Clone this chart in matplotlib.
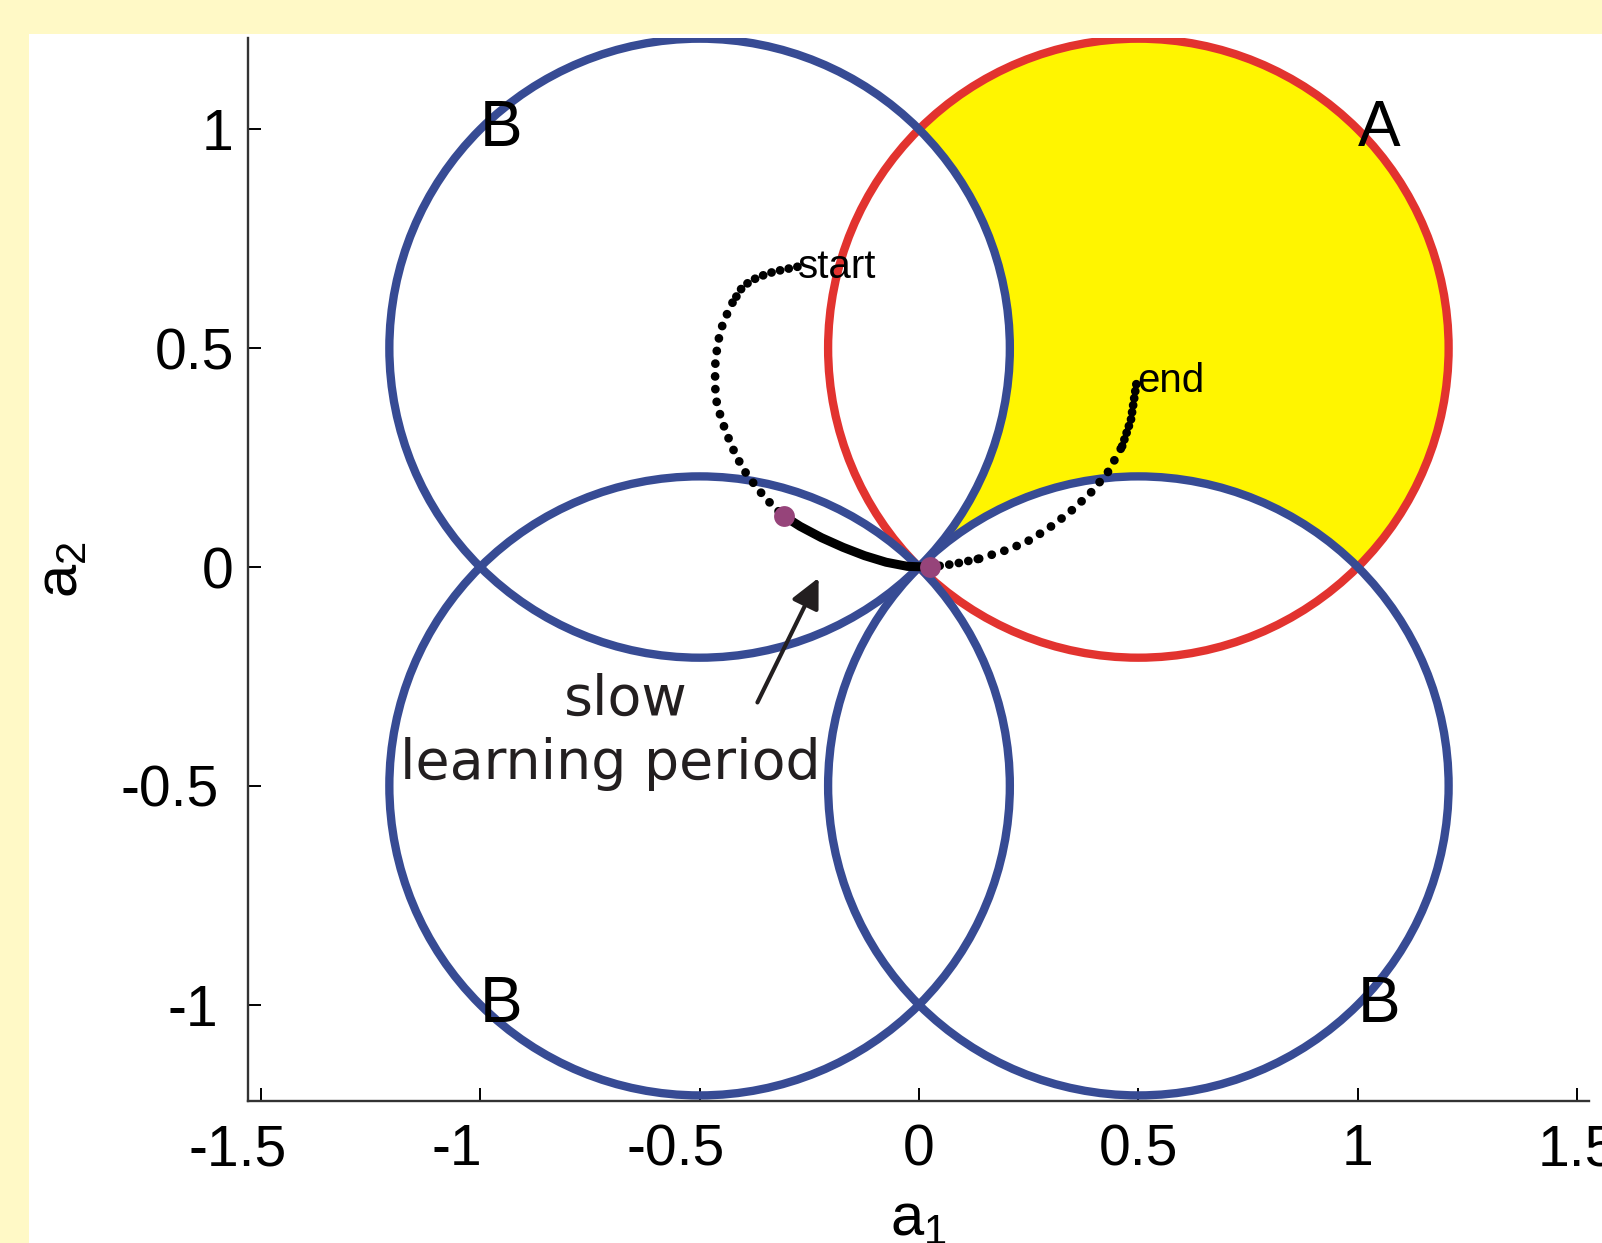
import numpy as np
import matplotlib.pyplot as plt
from matplotlib.patches import Circle, Rectangle
from matplotlib.transforms import ScaledTranslation

plt.rcParams['font.family'] = ['Liberation Sans', 'DejaVu Sans']
plt.rcParams['axes.unicode_minus'] = False

# Four decision circles (radius 1/sqrt(2)), A is the target class
centre_A = (0.5, 0.5)
centres_B = [(-0.5, 0.5), (-0.5, -0.5), (0.5, -0.5)]
radius = np.sqrt(0.5)

# Weight trajectory: dotted run from start, slow (dense) stretch, dotted run to end
start_x = [-0.277, -0.330, -0.368, -0.401, -0.425, -0.446, -0.458, -0.464,
           -0.465, -0.462, -0.450, -0.427, -0.401, -0.368, -0.332, -0.307]
start_y = [0.686, 0.675, 0.662, 0.642, 0.604, 0.560, 0.515, 0.470,
           0.418, 0.381, 0.336, 0.276, 0.224, 0.179, 0.138, 0.116]

slow_x = [-0.307, -0.271, -0.222, -0.173, -0.124, -0.075, -0.026, 0.025]
slow_y = [0.116, 0.093, 0.067, 0.045, 0.026, 0.011, 0.0015, 0.0]

end_x = [0.025, 0.080, 0.137, 0.194, 0.243, 0.292, 0.341, 0.390,
         0.430, 0.463, 0.483, 0.496]
end_y = [0.0, 0.007, 0.019, 0.037, 0.056, 0.086, 0.123, 0.168,
         0.216, 0.276, 0.336, 0.422]

# Markers where the slow period begins and ends
marks_x = [-0.307, 0.025]
marks_y = [0.116, 0.0]

xticks = [-1.5, -1, -0.5, 0, 0.5, 1, 1.5]
xticklabels = ['-1.5', '-1', '-0.5', '0', '0.5', '1', '1.5']
yticks = [-1, -0.5, 0, 0.5, 1]
yticklabels = ['-1', '-0.5', '0', '0.5', '1']

blue = '#374B94'
red = '#E2332F'
yellow = '#FFF500'
purple = '#96447A'
ink = '#231F20'

fig = plt.figure(figsize=(16.02, 12.43), dpi=100, facecolor='#FFF9C6')
fig.patches.append(Rectangle((0.0181, 0), 0.99, 0.9726, transform=fig.transFigure,
                             facecolor='white', edgecolor='none', zorder=-10))

ax = fig.add_axes([0.1546, 0.1142, 0.837, 0.855])
ax.set_facecolor('none')
ax.set_xlim(-1.53, 1.526)
ax.set_ylim(-1.22, 1.208)

# region of A not covered by neighbouring B circles
ax.add_patch(Circle(centre_A, radius, facecolor=yellow, edgecolor='none', zorder=1))
for c in (centres_B[0], centres_B[2]):
    ax.add_patch(Circle(c, radius, facecolor='white', edgecolor='none', zorder=1.2))

ax.add_patch(Circle(centre_A, radius, fill=False, edgecolor=red, lw=6, zorder=2))
for c in centres_B:
    ax.add_patch(Circle(c, radius, fill=False, edgecolor=blue, lw=6, zorder=2.1))


def dotted(xs, ys, gap):
    ax.plot(xs, ys, color='black', lw=6.3, linestyle=(0, (0.01, gap)),
            dash_capstyle='round', zorder=3)


# tighter dot spacing where the steps are small
dotted(start_x[:5], start_y[:5], 1.0)
dotted(start_x[4:], start_y[4:], 1.45)
dotted(end_x[:3], end_y[:3], 1.1)
dotted(end_x[2:10], end_y[2:10], 1.5)
dotted(end_x[9:], end_y[9:], 0.8)
ax.plot(slow_x, slow_y, color='black', lw=6.5, solid_capstyle='round', zorder=3)
ax.plot(marks_x, marks_y, 'o', ms=15, color=purple, mec='none', zorder=4)

ax.text(-0.275, 0.686, 'start', fontsize=29, va='center', ha='left', zorder=5)
ax.text(0.498, 0.425, 'end', fontsize=29, va='center', ha='left', zorder=5)

for lx, ly, s in [(-1.0, 1.0, 'B'), (1.0, 1.0, 'A'), (-1.0, -1.0, 'B'), (1.0, -1.0, 'B')]:
    ax.text(lx, ly, s, fontsize=46, va='center', ha='left', zorder=5)

ax.text(-0.669, -0.304, 'slow', fontsize=40, family='DejaVu Sans', color=ink,
        ha='center', va='center', zorder=5)
ax.text(-0.703, -0.45, 'learning period', fontsize=40, family='DejaVu Sans', color=ink,
        ha='center', va='center', zorder=5)
ax.annotate('', xy=(-0.226, -0.019), xytext=(-0.371, -0.315),
            arrowprops=dict(arrowstyle='-|>,head_length=0.45,head_width=0.22',
                            color=ink, lw=3, mutation_scale=40), zorder=5)

ax.spines['top'].set_visible(False)
ax.spines['right'].set_visible(False)
for s in ('left', 'bottom'):
    ax.spines[s].set_color('#333333')
    ax.spines[s].set_linewidth(1.7)

ax.set_xticks(xticks)
ax.set_xticklabels(xticklabels)
ax.set_yticks(yticks)
ax.set_yticklabels(yticklabels)
ax.tick_params(direction='in', length=9.4, width=1.4, labelsize=41, colors='black')
ax.tick_params(axis='x', pad=16)
ax.tick_params(axis='y', pad=10)

# negative labels sit a little left of their ticks
for lbl in ax.get_xticklabels():
    if lbl.get_text().startswith('-'):
        lbl.set_transform(lbl.get_transform() + ScaledTranslation(-0.235, 0, fig.dpi_scale_trans))
for lbl in ax.get_yticklabels():
    if lbl.get_text().startswith('-'):
        lbl.set_transform(lbl.get_transform() + ScaledTranslation(-0.155, 0, fig.dpi_scale_trans))

ax.set_xlabel(r'$\mathregular{a_1}$', fontsize=43)
ax.set_ylabel(r'$\mathregular{a_2}$', fontsize=43)
ax.xaxis.set_label_coords(0.5, -0.0866)
ax.yaxis.set_label_coords(-0.1175, 0.5)

fig.savefig('out.png', dpi=100, facecolor=fig.get_facecolor())
